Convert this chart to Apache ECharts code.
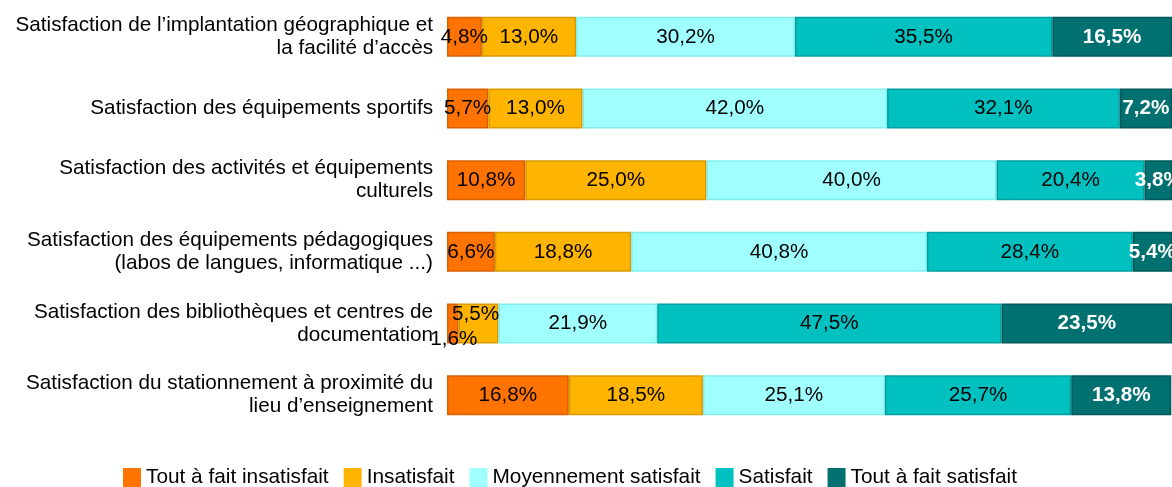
<!DOCTYPE html>
<html>
<head>
<meta charset="utf-8">
<script src="https://cdn.jsdelivr.net/npm/echarts@6/dist/echarts.min.js"></script>
<style>
    html, body { margin: 0; padding: 0; background: #fff; }
    #chart { width: 1172px; height: 487px; }
</style>
</head>
<body>
<div id="chart"></div>
<script>
'use strict';

/** catégories (de haut en bas) */
var categories = [
    'Satisfaction de l\u2019implantation géographique et\nla facilité d\u2019accès',
    'Satisfaction des équipements sportifs',
    'Satisfaction des activités et équipements\nculturels',
    'Satisfaction des équipements pédagogiques\n(labos de langues, informatique ...)',
    'Satisfaction des bibliothèques et centres de\ndocumentation',
    'Satisfaction du stationnement à proximité du\nlieu d\u2019enseignement'
];
var seriesNames = ['Tout à fait insatisfait', 'Insatisfait', 'Moyennement satisfait', 'Satisfait', 'Tout à fait satisfait'];

var toutInsatisfait = [4.8, 5.7, 10.8, 6.6, 1.6, 16.8];
var insatisfait = [13.0, 13.0, 25.0, 18.8, 5.5, 18.5];
var moyennement = [30.2, 42.0, 40.0, 40.8, 21.9, 25.1];
var satisfait = [35.5, 32.1, 20.4, 28.4, 47.5, 25.7];
var toutSatisfait = [16.5, 7.2, 3.8, 5.4, 23.5, 13.8];

var colors = ['#ff7300', '#ffb400', '#a0ffff', '#00c0c0', '#007070'];
var borders = ['#d96000', '#d99a00', '#80eeee', '#00a0a0', '#005858'];

var FONT = 'Liberation Sans, Arial';
var chart = echarts.init(document.getElementById('chart'));

function fmt(p) {
    return p.value.toFixed(1).replace('.', ',') + '%';
}

// étiquettes qui se chevauchent sur les petits segments (ligne bibliothèques)
var labelOffsets = { '0-4': [1, 16], '1-4': [-3, -9] };

function buildSeries(idx, values) {
    return {
        name: seriesNames[idx],
        type: 'bar',
        stack: 'total',
        barWidth: 40,
        itemStyle: {
            color: colors[idx],
            borderColor: borders[idx],
            borderWidth: 1.5
        },
        label: {
            show: true,
            position: 'inside',
            formatter: fmt,
            fontFamily: FONT,
            fontSize: 20.7,
            color: idx === 4 ? '#ffffff' : '#000000',
            fontWeight: idx === 4 ? 'bold' : 'normal'
        },
        data: values.map(function (v, i) {
            var off = labelOffsets[idx + '-' + i];
            if (off) {
                return { value: v, label: { offset: off } };
            }
            return v;
        })
    };
}

var option = {
    animation: false,
    grid: {
        left: 447,
        right: 0,
        top: 1,
        bottom: 56,
        containLabel: false
    },
    legend: {
        data: seriesNames,
        bottom: -1,
        left: 123,
        padding: 0,
        icon: 'rect',
        itemWidth: 18,
        itemHeight: 19,
        itemGap: 15,
        itemStyle: { borderWidth: 0 },
        textStyle: {
            fontFamily: FONT,
            fontSize: 20.8,
            color: '#000'
        }
    },
    xAxis: {
        type: 'value',
        min: 0,
        max: 100,
        show: false
    },
    yAxis: {
        type: 'category',
        data: categories,
        inverse: true,
        axisLine: { show: false },
        axisTick: { show: false },
        axisLabel: {
            margin: 14,
            align: 'right',
            fontFamily: FONT,
            fontSize: 20.7,
            lineHeight: 23,
            color: '#000'
        }
    },
    series: [
        buildSeries(0, toutInsatisfait),
        buildSeries(1, insatisfait),
        buildSeries(2, moyennement),
        buildSeries(3, satisfait),
        buildSeries(4, toutSatisfait)
    ]
};

chart.setOption(option);
</script>
</body>
</html>
